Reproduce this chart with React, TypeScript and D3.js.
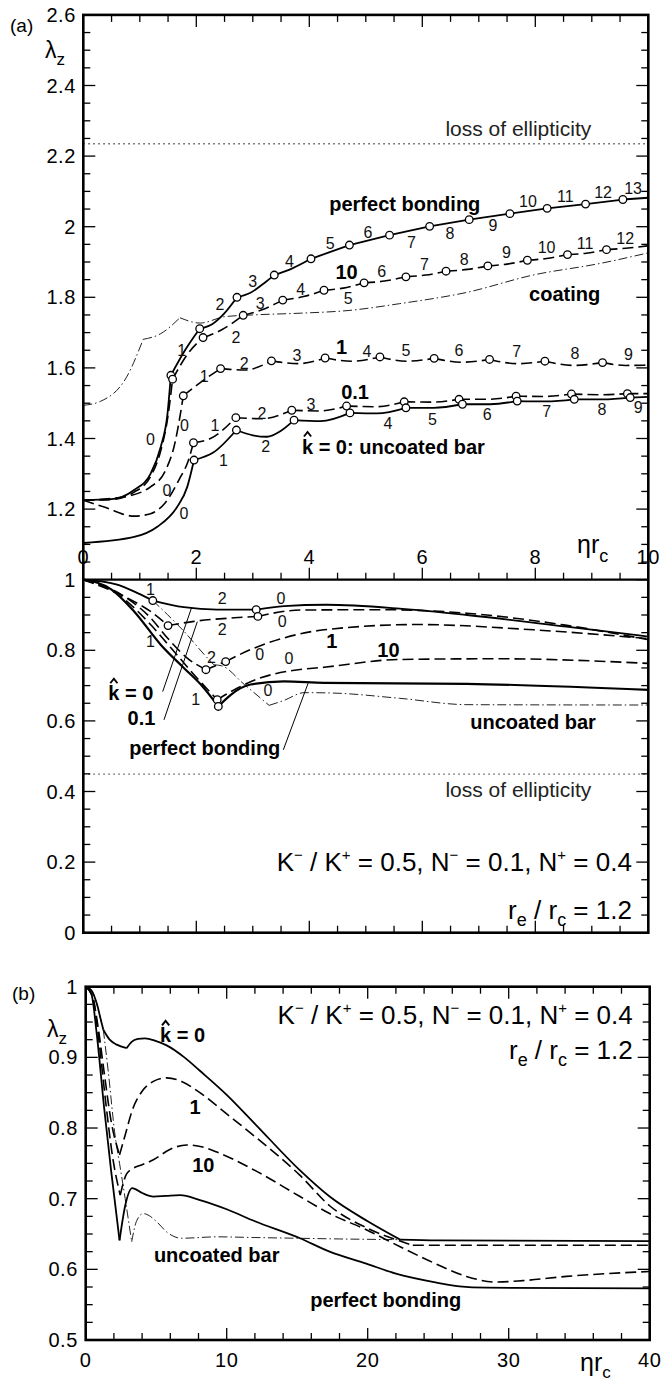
import React from 'react';
import * as d3 from 'd3';

type Pt = [number, number, number?];

// ---------- panel (a), upper branch (flag 1 = mode-change circle, 2 = kink only)
const aPerfectUp: Pt[] = [
  [0, 1.225], [0.5, 1.228], [0.9, 1.254], [1.19, 1.3], [1.37, 1.376], [1.49, 1.47], [1.55, 1.579, 1],
  [1.8, 1.65], [2.06, 1.711, 1], [2.3, 1.726], [2.5, 1.755], [2.72, 1.8, 1], [2.95, 1.812], [3.2, 1.84],
  [3.38, 1.863, 1], [3.7, 1.882], [4.03, 1.909, 1], [4.71, 1.948, 1], [5.42, 1.976, 1], [6.13, 2.001, 1],
  [6.83, 2.02, 1], [7.55, 2.037, 1], [8.21, 2.052, 1], [8.89, 2.064, 1], [9.55, 2.077, 1], [10, 2.082],
];
const aK10Up: Pt[] = [
  [0, 1.225], [0.5, 1.227], [0.9, 1.248], [1.19, 1.292], [1.37, 1.365], [1.5, 1.465], [1.58, 1.568, 1],
  [1.85, 1.64], [2.12, 1.686, 1], [2.45, 1.708], [2.83, 1.749, 1], [3.15, 1.764], [3.53, 1.792, 1],
  [3.9, 1.802], [4.26, 1.82, 1], [4.6, 1.826], [4.97, 1.841, 1], [5.33, 1.846], [5.71, 1.858, 1],
  [6.06, 1.863], [6.42, 1.874, 1], [6.8, 1.879], [7.16, 1.889, 1], [7.5, 1.894], [7.86, 1.905, 1],
  [8.2, 1.91], [8.57, 1.921, 1], [8.9, 1.925], [9.26, 1.935, 1], [9.6, 1.939], [10, 1.946],
];
const aK1Up: Pt[] = [
  [0, 1.225], [0.72, 1.235], [1.19, 1.263], [1.44, 1.305], [1.62, 1.386], [1.72, 1.471], [1.77, 1.521, 1],
  [2.1, 1.562], [2.43, 1.598, 1], [2.85, 1.594], [3.33, 1.62, 1], [3.8, 1.612], [4.28, 1.628, 1],
  [4.75, 1.619], [5.25, 1.631, 1], [5.72, 1.619], [6.21, 1.627, 1], [6.7, 1.616], [7.19, 1.624, 1],
  [7.68, 1.612], [8.17, 1.619, 1], [8.68, 1.607], [9.19, 1.615, 1], [9.6, 1.607], [10, 1.608],
];
const aK01Up: Pt[] = [
  [0, 1.225], [0.37, 1.206], [0.9, 1.18], [1.19, 1.187], [1.44, 1.216], [1.72, 1.291], [1.84, 1.329],
  [1.95, 1.388, 1], [2.25, 1.4], [2.7, 1.459, 1], [3.15, 1.456], [3.69, 1.48, 1], [4.18, 1.478],
  [4.66, 1.492, 1], [5.18, 1.49], [5.68, 1.504, 1], [6.17, 1.503], [6.65, 1.511, 1], [7.16, 1.511],
  [7.66, 1.52, 1], [8.15, 1.519], [8.64, 1.526, 1], [9.13, 1.524], [9.63, 1.527, 1], [10, 1.527],
];
const aK0Up: Pt[] = [
  [0, 1.104], [0.9, 1.121], [1.31, 1.15], [1.66, 1.206], [1.84, 1.263], [1.96, 1.339, 1], [2.3, 1.36],
  [2.71, 1.424, 1], [3.0, 1.409], [3.25, 1.405], [3.5, 1.422], [3.73, 1.452, 1], [4.2, 1.449],
  [4.72, 1.4725, 1], [5.2, 1.471], [5.71, 1.487, 1], [6.2, 1.487], [6.71, 1.497, 1], [7.2, 1.497],
  [7.68, 1.506, 1], [8.2, 1.505], [8.69, 1.511, 1], [9.2, 1.511], [9.68, 1.516, 1], [10, 1.518],
];
const aCoatingUp: Pt[] = [
  [0, 1.494], [0.3, 1.505], [0.77, 1.575], [1.06, 1.681, 2], [1.36, 1.696], [1.71, 1.742, 2], [2.07, 1.727],
  [2.5, 1.745], [3.0, 1.75], [3.84, 1.755], [4.72, 1.763], [5.6, 1.782], [6.79, 1.814], [7.96, 1.863],
  [9.15, 1.896], [10, 1.926],
];

// ---------- panel (a), lower branch
const aK0Low: Pt[] = [
  [0, 1.0], [0.6, 0.986], [0.96, 0.962], [1.23, 0.941, 1], [1.78, 0.922], [2.37, 0.915], [3.06, 0.915, 1],
  [3.55, 0.925], [4.3, 0.929], [5.6, 0.918], [6.79, 0.9], [8.55, 0.867], [10, 0.839],
];
const aK01Low: Pt[] = [
  [0, 1.0], [0.78, 0.948], [1.19, 0.91], [1.5, 0.87, 1], [1.96, 0.882], [2.67, 0.892], [3.09, 0.896, 1],
  [3.84, 0.914], [5.3, 0.915], [6.79, 0.905], [8.5, 0.872], [10, 0.83],
];
const aK1Low: Pt[] = [
  [0, 1.0], [0.72, 0.953], [1.19, 0.892], [1.49, 0.835], [1.84, 0.778], [2.17, 0.745, 1], [2.35, 0.757],
  [2.52, 0.768, 1], [2.96, 0.802], [3.55, 0.835], [4.26, 0.858], [5.9, 0.873], [7.97, 0.858], [10, 0.833],
];
const aK10Low: Pt[] = [
  [0, 1.0], [0.6, 0.96], [1.19, 0.873], [1.55, 0.807], [1.96, 0.731], [2.37, 0.66, 1], [2.73, 0.693],
  [3.14, 0.722], [3.67, 0.742], [4.26, 0.752], [5.6, 0.774], [7.37, 0.776], [10, 0.763],
];
const aPerfectLow: Pt[] = [
  [0, 1.0], [0.5, 0.972], [0.9, 0.91], [1.37, 0.816], [1.78, 0.75], [2.08, 0.703], [2.39, 0.641, 1],
  [2.61, 0.674], [2.96, 0.703], [3.55, 0.712], [4.26, 0.708], [6.79, 0.705], [10, 0.688],
];
const aUncoatedLow: Pt[] = [
  [0, 1.0], [0.6, 0.986], [0.96, 0.962], [1.23, 0.941, 2], [1.49, 0.901], [1.78, 0.854], [2.14, 0.788],
  [2.31, 0.759, 2], [2.45, 0.756], [2.85, 0.703], [3.29, 0.644, 2], [3.55, 0.658], [3.91, 0.68],
  [4.4, 0.679], [5.6, 0.664], [6.79, 0.646], [10, 0.645],
];

// ---------- panel (b)
const bK0: Pt[] = [
  [0, 1.0], [0.4, 0.995], [0.8, 0.975], [1.05, 0.955], [1.25, 0.939, 2], [1.7, 0.925], [2.2, 0.918],
  [2.9, 0.913, 2], [3.26, 0.922], [3.7, 0.926], [4.2, 0.927], [5.0, 0.923], [5.74, 0.917], [7, 0.9],
  [8.1, 0.881], [10, 0.847], [12, 0.806], [15.2, 0.74], [17.3, 0.703], [20, 0.668], [22.3, 0.642, 2],
  [25, 0.641], [40, 0.64],
];
const bK1: Pt[] = [
  [0, 1.0], [0.5, 0.985], [0.9, 0.94], [1.3, 0.88], [1.8, 0.81], [2.4, 0.762, 2], [2.8, 0.79], [3.3, 0.825],
  [4.0, 0.852], [4.8, 0.866], [5.74, 0.871], [6.8, 0.866], [8.1, 0.85], [10, 0.82], [12, 0.788],
  [15.2, 0.733], [17.3, 0.69], [20, 0.658], [22.3, 0.64], [23.2, 0.634, 2], [40, 0.634],
];
const bK10: Pt[] = [
  [0, 1.0], [0.5, 0.985], [0.9, 0.93], [1.4, 0.84], [1.9, 0.76], [2.45, 0.705, 2], [2.9, 0.735],
  [3.38, 0.743], [4.0, 0.748], [4.8, 0.755], [6, 0.77], [7.16, 0.776], [8.3, 0.773], [9.3, 0.766],
  [12, 0.74], [15.2, 0.703], [17.3, 0.679], [19.9, 0.656], [22.3, 0.632], [24.7, 0.609], [27, 0.59],
  [29.1, 0.582], [31, 0.584], [34.1, 0.59], [40, 0.597],
];
const bPerfect: Pt[] = [
  [0, 1.0], [0.4, 0.99], [0.8, 0.93], [1.3, 0.83], [1.8, 0.74], [2.4, 0.641, 2], [2.8, 0.69], [3.3, 0.715],
  [4.0, 0.708], [4.8, 0.703], [5.7, 0.704], [6.7, 0.705], [8.1, 0.698], [10, 0.685], [12, 0.668],
  [15.2, 0.644], [17.3, 0.625], [19.9, 0.608], [22, 0.594], [24.7, 0.582], [26.5, 0.576], [28.4, 0.574],
  [40, 0.573],
];
const bUncoated: Pt[] = [
  [0, 1.0], [0.4, 0.995], [0.8, 0.975], [1.05, 0.955], [1.25, 0.939, 2], [1.6, 0.88], [2.08, 0.79],
  [2.4, 0.75], [2.8, 0.7], [3.26, 0.639, 2], [3.6, 0.668], [4.08, 0.679], [4.5, 0.676], [5.0, 0.668],
  [5.8, 0.652], [6.8, 0.644], [9.3, 0.646], [12, 0.645], [15, 0.644], [18, 0.643], [22.3, 0.642],
];

// loss of ellipticity levels
const aLossUp = 2.235;
const aLossLow = 0.449;

// mode numbers: [x, y, text]
const aModeLabels: [number, number, string][] = [
  [1.19, 1.398, '0'], [1.74, 1.649, '1'], [2.42, 1.779, '2'], [3.0, 1.845, '3'], [3.65, 1.903, '4'],
  [4.37, 1.953, '5'], [5.04, 1.983, '6'], [5.81, 1.955, '7'], [6.49, 1.982, '8'], [7.25, 2.003, '9'],
  [7.87, 2.071, '10'], [8.53, 2.086, '11'], [9.2, 2.097, '12'], [9.73, 2.109, '13'],
  [2.7, 1.687, '2'], [3.13, 1.783, '3'], [3.85, 1.823, '4'], [4.69, 1.796, '5'], [5.28, 1.873, '6'],
  [6.04, 1.892, '7'], [6.74, 1.908, '8'], [7.49, 1.927, '9'], [8.2, 1.941, '10'], [8.88, 1.953, '11'],
  [9.59, 1.968, '12'],
  [1.79, 1.437, '0'], [2.14, 1.576, '1'], [2.85, 1.613, '2'], [3.78, 1.634, '3'], [5.02, 1.646, '4'],
  [5.71, 1.649, '5'], [6.65, 1.649, '6'], [7.67, 1.646, '7'], [8.7, 1.642, '8'], [9.65, 1.637, '9'],
  [1.48, 1.252, '0'], [2.33, 1.437, '1'], [3.16, 1.472, '2'], [4.03, 1.498, '3'],
  [1.78, 1.188, '0'], [2.48, 1.339, '1'], [3.23, 1.377, '2'], [5.39, 1.443, '4'], [6.18, 1.455, '5'],
  [7.15, 1.467, '6'], [8.2, 1.478, '7'], [9.18, 1.483, '8'], [9.82, 1.487, '9'],
  [1.19, 0.972, '1'], [2.46, 0.946, '2'], [3.5, 0.946, '0'], [2.46, 0.859, '2'], [3.52, 0.882, '0'],
  [1.19, 0.826, '1'], [2.27, 0.78, '2'], [3.12, 0.788, '0'], [3.64, 0.776, '0'], [1.99, 0.66, '1'],
  [3.27, 0.686, '0'],
];

// bold curve names: [x, y, text]
const aNames: [number, number, string][] = [
  [5.69, 2.065, 'perfect bonding'], [4.66, 1.873, '10'], [8.52, 1.809, 'coating'], [4.57, 1.66, '1'],
  [4.81, 1.533, '0.1'], [1.03, 0.608, '0.1'], [2.15, 0.523, 'perfect bonding'], [4.4, 0.825, '1'],
  [5.4, 0.801, '10'], [7.96, 0.596, 'uncoated bar'],
];
const aHatNames: [number, number, string][] = [[3.87, 1.377, 'k = 0: uncoated bar'], [0.442, 0.678, 'k = 0']];
const aLeaders: [number, number, number, number][] = [
  [1.405, 0.683, 1.919, 0.922], [1.428, 0.603, 2.018, 0.881], [3.54, 0.518, 3.98, 0.707],
];
const bNames: [number, number, string][] = [
  [7.75, 0.83, '1'], [8.34, 0.748, '10'], [9.29, 0.62, 'uncoated bar'], [21.28, 0.557, 'perfect bonding'],
];
const bHatNames: [number, number, string][] = [[5.27, 0.931, 'k = 0']];

const aXTicks = [0, 2, 4, 6, 8, 10];
const aYTicks = [0, 0.2, 0.4, 0.6, 0.8, 1, 1.2, 1.4, 1.6, 1.8, 2, 2.2, 2.4, 2.6];
const bXTicks = [0, 10, 20, 30, 40];
const bYTicks = [0.5, 0.6, 0.7, 0.8, 0.9, 1];

const FONT = "'Liberation Sans', Arial, sans-serif";

const xA = d3.scaleLinear().domain([0, 10]).range([83.3, 648.3]);
const yA = d3.scaleLinear().domain([0, 2.6]).range([932.7, 14.9]);
const xB = d3.scaleLinear().domain([0, 40]).range([85.7, 649.7]);
const yB = d3.scaleLinear().domain([0.5, 1]).range([1340, 986.7]);

const STYLE: Record<string, { w: number; dash?: string; color: string }> = {
  solid: { w: 1.8, color: '#000' },
  thick: { w: 2.2, color: '#000' },
  dash: { w: 1.6, dash: '11 5', color: '#000' },
  dashdot: { w: 1, dash: '9 3 1.5 3', color: '#222' },
};

function split(pts: Pt[]) {
  const segs: Pt[][] = [];
  let cur: Pt[] = [];
  pts.forEach((p, i) => {
    cur.push(p);
    if (p[2] && i > 0 && i < pts.length - 1) {
      segs.push(cur);
      cur = [p];
    }
  });
  segs.push(cur);
  return segs;
}

function Curve({ pts, x, y, kind }: any) {
  const gen = d3.line<Pt>().x(d => x(d[0])).y(d => y(d[1])).curve(d3.curveMonotoneX);
  const st = STYLE[kind];
  return (
    <g>
      {split(pts).map((s, i) => (
        <path key={i} d={gen(s) || ''} fill="none" stroke={st.color} strokeWidth={st.w}
          strokeDasharray={st.dash} strokeLinejoin="round" />
      ))}
    </g>
  );
}

function Marks({ pts, x, y }: any) {
  return (
    <g>
      {pts.filter((p: Pt) => p[2] === 1).map((p: Pt, i: number) => (
        <circle key={i} cx={x(p[0])} cy={y(p[1])} r={3.8} fill="#fff" stroke="#000" strokeWidth={1.3} />
      ))}
    </g>
  );
}

// tick marks along one side of a frame
function Ticks({ vals, major, at, pos, dir, horizontal }: any) {
  return (
    <g stroke="#000" strokeWidth={1.3}>
      {vals.map((v: number, i: number) => {
        const isMajor = Math.abs(v / major - Math.round(v / major)) < 1e-6;
        const len = (isMajor ? 12 : 7) * dir;
        const p = pos(v);
        return horizontal
          ? <line key={i} x1={p} x2={p} y1={at} y2={at + len} />
          : <line key={i} x1={at} x2={at + len} y1={p} y2={p} />;
      })}
    </g>
  );
}

function Hat({ x, y, text, size = 20 }: any) {
  const cx = x + 5.6;
  const top = y + 0.35 * size - 14.6;
  return (
    <g>
      <text x={x} y={y} dy="0.35em" fontSize={size} fontWeight="bold">{text}</text>
      <path d={`M${cx - 3.6},${top - 2.5} L${cx},${top - 7} L${cx + 3.6},${top - 2.5}`} fill="none" stroke="#000" strokeWidth={1.9} />
    </g>
  );
}

function KText({ xr, y1, y2 }: any) {
  return (
    <g fontSize={26}>
      <text x={xr} y={y1} dy="0.35em" textAnchor="end">
        K<tspan fontSize={15} dy={-11}>−</tspan><tspan dy={11}> / K</tspan><tspan fontSize={15} dy={-11}>+</tspan>
        <tspan dy={11}> = 0.5, N</tspan><tspan fontSize={15} dy={-11}>−</tspan><tspan dy={11}> = 0.1, N</tspan>
        <tspan fontSize={15} dy={-11}>+</tspan><tspan dy={11}> = 0.4</tspan>
      </text>
      <text x={xr} y={y2} dy="0.35em" textAnchor="end">
        r<tspan fontSize={18} dy={7}>e</tspan><tspan dy={-7}> / r</tspan><tspan fontSize={18} dy={7}>c</tspan>
        <tspan dy={-7}> = 1.2</tspan>
      </text>
    </g>
  );
}

const fmt = (v: number) => String(+v.toFixed(1));

export default function App() {
  const aXMinor = d3.range(0, 10.0001, 0.5);
  const aYMinor = d3.range(0, 2.6001, 0.05);
  const bXMinor = d3.range(0, 40.0001, 2);
  const bYMinor = d3.range(0.5, 1.0001, 0.025);

  const aCurves: [Pt[], string][] = [
    [aCoatingUp, 'dashdot'], [aPerfectUp, 'solid'], [aK10Up, 'dash'], [aK1Up, 'dash'], [aK01Up, 'dash'],
    [aK0Up, 'solid'], [aUncoatedLow, 'dashdot'], [aK0Low, 'solid'], [aK01Low, 'dash'], [aK1Low, 'dash'],
    [aK10Low, 'dash'], [aPerfectLow, 'thick'],
  ];
  const bCurves: [Pt[], string][] = [
    [bUncoated, 'dashdot'], [bK0, 'solid'], [bK1, 'dash'], [bK10, 'dash'], [bPerfect, 'solid'],
  ];

  return (
    <svg width={662} height={1385} style={{ position: 'absolute', left: 0, top: 0, background: '#fff' }}
      fontFamily={FONT}>
      <rect width={662} height={1385} fill="#fff" />

      {/* ---------------- panel (a) ---------------- */}
      <g>
        {[aLossUp, aLossLow].map((v, i) => (
          <line key={i} x1={xA(0)} x2={xA(10)} y1={yA(v)} y2={yA(v)} stroke="#555" strokeWidth={1.3} strokeDasharray="1.5 3.5" />
        ))}
        {aCurves.map(([pts, kind], i) => <Curve key={i} pts={pts} x={xA} y={yA} kind={kind} />)}
        {aCurves.map(([pts], i) => <Marks key={i} pts={pts} x={xA} y={yA} />)}
        {aLeaders.map((l, i) => (
          <line key={i} x1={xA(l[0])} y1={yA(l[1])} x2={xA(l[2])} y2={yA(l[3])} stroke="#000" strokeWidth={1} />
        ))}

        <g fontSize={16} textAnchor="middle" fill="#111">
          {aModeLabels.map((d, i) => <text key={i} x={xA(d[0])} y={yA(d[1])} dy="0.35em">{d[2]}</text>)}
        </g>
        <g fontSize={20} fontWeight="bold" textAnchor="middle">
          {aNames.map((d, i) => <text key={i} x={xA(d[0])} y={yA(d[1])} dy="0.35em">{d[2]}</text>)}
        </g>
        {aHatNames.map((d, i) => <Hat key={i} x={xA(d[0])} y={yA(d[1])} text={d[2]} />)}
        <g fontSize={21} textAnchor="middle" fill="#222">
          <text x={xA(7.7)} y={yA(2.279)} dy="0.35em">loss of ellipticity</text>
          <text x={xA(7.7)} y={yA(0.404)} dy="0.35em">loss of ellipticity</text>
        </g>
        <KText xr={xA(9.71)} y1={yA(0.2)} y2={yA(0.065)} />

        {/* frame */}
        <g stroke="#000" strokeWidth={2.6} fill="none">
          <rect x={xA(0)} y={yA(2.6)} width={xA(10) - xA(0)} height={yA(0) - yA(2.6)} />
          <line x1={xA(0)} x2={xA(10)} y1={yA(1)} y2={yA(1)} strokeWidth={2.2} />
        </g>
        <Ticks vals={aYMinor} major={0.2} at={xA(0)} pos={yA} dir={1} />
        <Ticks vals={aYMinor} major={0.2} at={xA(10)} pos={yA} dir={-1} />
        <Ticks vals={aXMinor} major={2} at={yA(2.6)} pos={xA} dir={1} horizontal />
        <Ticks vals={aXMinor} major={2} at={yA(1)} pos={xA} dir={-1} horizontal />
        <Ticks vals={aXMinor} major={2} at={yA(0)} pos={xA} dir={-1} horizontal />

        <g fontSize={20} letterSpacing={0.6}>
          {aYTicks.map(v => <text key={v} x={76} y={yA(v)} dy="0.35em" textAnchor="end">{fmt(v)}</text>)}
          {aXTicks.map(v => <text key={v} x={xA(v)} y={yA(1) - 23} dy="0.35em" textAnchor="middle">{fmt(v)}</text>)}
        </g>
        <text x={10} y={32} fontSize={19}>(a)</text>
        <text x={45} y={58} fontSize={23}>λ<tspan fontSize={17} dy={7}>z</tspan></text>
        <text x={577} y={553} fontSize={25}>ηr<tspan fontSize={18} dy={9}>c</tspan></text>
      </g>

      {/* ---------------- panel (b) ---------------- */}
      <g>
        {bCurves.map(([pts, kind], i) => <Curve key={i} pts={pts} x={xB} y={yB} kind={kind} />)}
        <g fontSize={20} fontWeight="bold" textAnchor="middle">
          {bNames.map((d, i) => <text key={i} x={xB(d[0])} y={yB(d[1])} dy="0.35em">{d[2]}</text>)}
        </g>
        {bHatNames.map((d, i) => <Hat key={i} x={xB(d[0])} y={yB(d[1])} text={d[2]} />)}
        <KText xr={xB(38.8)} y1={yB(0.96)} y2={yB(0.91)} />

        <rect x={xB(0)} y={yB(1)} width={xB(40) - xB(0)} height={yB(0.5) - yB(1)} stroke="#000" strokeWidth={2.6} fill="none" />
        <Ticks vals={bYMinor} major={0.1} at={xB(0)} pos={yB} dir={1} />
        <Ticks vals={bYMinor} major={0.1} at={xB(40)} pos={yB} dir={-1} />
        <Ticks vals={bXMinor} major={10} at={yB(1)} pos={xB} dir={1} horizontal />
        <Ticks vals={bXMinor} major={10} at={yB(0.5)} pos={xB} dir={-1} horizontal />

        <g fontSize={20} letterSpacing={0.6}>
          {bYTicks.map(v => <text key={v} x={78} y={yB(v)} dy="0.35em" textAnchor="end">{fmt(v)}</text>)}
          {bXTicks.map(v => <text key={v} x={xB(v)} y={1367} textAnchor="middle">{fmt(v)}</text>)}
        </g>
        <text x={12} y={1000} fontSize={19}>(b)</text>
        <text x={47} y={1037} fontSize={23}>λ<tspan fontSize={17} dy={7}>z</tspan></text>
        <text x={580} y={1371} fontSize={25}>ηr<tspan fontSize={17} dy={7}>c</tspan></text>
      </g>
    </svg>
  );
}
